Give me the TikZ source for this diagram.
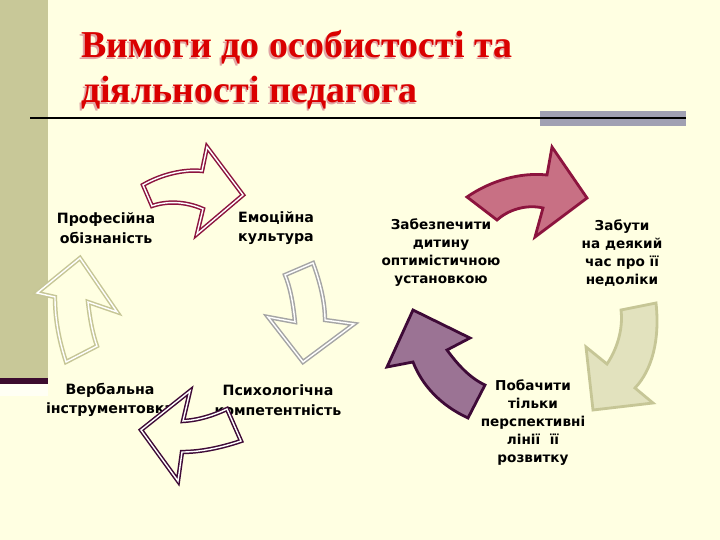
\documentclass[tikz,border=0pt]{standalone}
\usepackage{fontspec}
\setmainfont{Liberation Serif}
\newfontfamily\lblfont{DejaVu Sans}
\newfontfamily\ttlfont{Liberation Serif}
\definecolor{bg}{RGB}{255,255,226}
\definecolor{side}{RGB}{200,200,152}
\definecolor{sideline}{RGB}{60,12,48}
\definecolor{barg}{RGB}{160,160,178}
\definecolor{ttlred}{RGB}{218,0,0}
\definecolor{ttlshadow}{RGB}{225,165,165}
\definecolor{wine}{RGB}{140,20,62}
\definecolor{grayarr}{RGB}{165,165,165}
\definecolor{plum}{RGB}{62,10,55}
\definecolor{khaki}{RGB}{198,198,150}
\definecolor{pinkfill}{RGB}{200,112,132}
\definecolor{khakifill}{RGB}{226,226,190}
\definecolor{mauve}{RGB}{155,115,148}
\newcommand\shadowed[1]{\rlap{\hspace{-1.5pt}\raisebox{-1.5pt}{\color{ttlshadow}#1}}#1}
\tikzset{
  lbl/.style={font=\lblfont\bfseries\fontsize{14.2}{19.5}\selectfont, align=center, text=black, inner sep=0pt},
  lblsm/.style={font=\lblfont\bfseries\fontsize{13.6}{18}\selectfont, align=center, text=black, inner sep=0pt},
  hollow/.style={line width=1.5pt, double=white, double distance=1.4pt, fill=bg, line join=miter},
  solidarr/.style={line width=2.8pt, line join=miter},
  ttl/.style={anchor=base west, inner sep=0pt, text=ttlred, font=\ttlfont\bfseries\fontsize{38}{44}\selectfont}
}
\begin{document}
\begin{tikzpicture}[x=1pt,y=-1pt]
\useasboundingbox (0,0) rectangle (720,540);
\fill[bg] (0,0) rectangle (720,540);
% sidebar
\fill[side] (0,0) rectangle (48,378);
\fill[sideline] (0,378) rectangle (48,384);
\fill[white!60!bg] (0,384) rectangle (48,396);
% title rule
\fill[barg] (540,111) rectangle (686,126);
\draw[line width=2pt, black] (30,118) -- (686,118);
% title
\node[ttl] (t1) at (81,58) {\shadowed{Вимоги до особистості та}};
\node[ttl] (t2) at (81,103) {\shadowed{діяльності педагога}};

% labels
\node[lbl] (prof) at (106,228) {Професійна\\обізнаність};
\node[lbl] (emo) at (276,228) {Емоційна\\культура};
\node[lbl] (verb) at (110,400) {Вербальна\\інструментовка};
\node[lbl] (psy) at (278,400) {Психологічна\\компетентність};
\node[lblsm] (zab) at (441,253) {Забезпечити\\дитину\\оптимістичною\\установкою};
\node[lblsm] (zabu) at (622,253) {Забути\\на деякий\\час про її\\недоліки};
\node[lblsm] (pob) at (533,423) {Побачити\\тільки\\перспективні\\лінії \ її\\розвитку};

% left cycle arrows
\draw[hollow, draw=wine] (143,185) .. controls (162,174) and (185,169) .. (202,171)
  -- (207,147) -- (243,195) -- (197,234) -- (203,209)
  .. controls (185,201) and (166,201) .. (152,206) -- cycle;
\draw[hollow, draw=grayarr] (285,275) -- (313,263) .. controls (320,282) and (325,302) .. (325,320)
  -- (354,324) -- (303,362) -- (268,317) -- (295,322)
  .. controls (293,302) and (290,287) .. (285,275) -- cycle;
\draw[hollow, draw=plum] (227,409) -- (241,441) .. controls (220,448) and (200,452) .. (182,452)
  -- (178,481) -- (141,430) -- (190,391) -- (183,421)
  .. controls (200,420) and (214,415) .. (227,409) -- cycle;
\draw[hollow, draw=khaki] (80,258) -- (117,312) -- (88,302)
  .. controls (90,320) and (93,335) .. (97,346) -- (66,362)
  .. controls (59,340) and (55,320) .. (55,297) -- (37,293) -- cycle;

% right cycle arrows
\draw[solidarr, draw=wine, fill=pinkfill] (467,197) .. controls (490,181) and (520,172) .. (547,175)
  -- (552,147) -- (587,198) -- (535,237) -- (543,208)
  .. controls (526,204) and (508,210) .. (497,220) -- cycle;
\draw[solidarr, draw=khaki, fill=khakifill] (621,310) -- (656,303)
  .. controls (660,340) and (652,370) .. (635,388) -- (653,403) -- (593,410) -- (586,347) -- (607,364)
  .. controls (619,346) and (623,326) .. (621,310) -- cycle;
\draw[solidarr, draw=plum, fill=mauve] (387,367) -- (413,310) -- (470,338) -- (447,350)
  .. controls (458,365) and (470,378) .. (485,385) -- (468,418)
  .. controls (440,405) and (422,385) .. (413,362) -- cycle;
\end{tikzpicture}
\end{document}
